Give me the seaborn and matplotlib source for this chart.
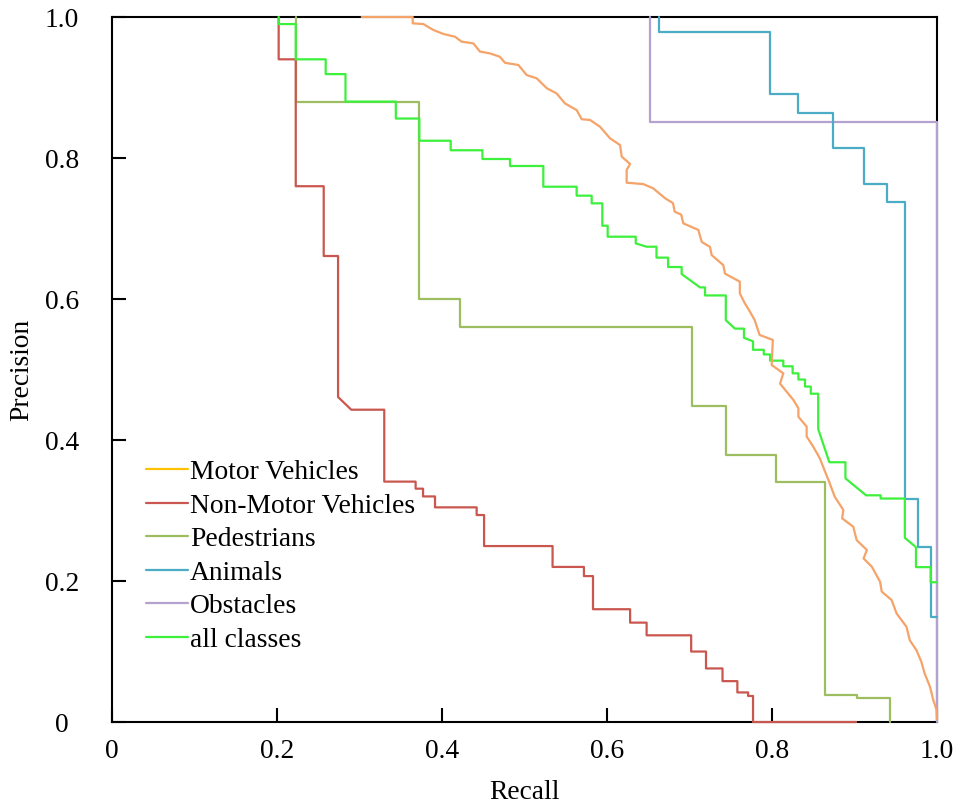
import matplotlib
matplotlib.use("Agg")
import matplotlib.pyplot as plt
from matplotlib.lines import Line2D
import seaborn as sns
import pandas as pd

# ---------------- data (vertices) ----------------
motor_recall = [0.3027, 0.3645, 0.3645, 0.3774, 0.3895, 0.4016, 0.4158, 0.4238, 0.438, 0.446,
                0.458, 0.470, 0.4764, 0.4925, 0.5026, 0.5148, 0.527, 0.539, 0.549, 0.5632,
                0.5693, 0.5794, 0.5915, 0.6036, 0.6158, 0.6178, 0.628, 0.6238, 0.6238, 0.644,
                0.656, 0.6703, 0.680, 0.682, 0.690, 0.6925, 0.7107, 0.7148, 0.7248, 0.7268,
                0.741, 0.743, 0.761, 0.761, 0.767, 0.7733, 0.779, 0.785, 0.801, 0.7996,
                0.8137, 0.8097, 0.826, 0.832, 0.832, 0.842, 0.842, 0.850, 0.858, 0.862,
                0.870, 0.876, 0.8865, 0.885, 0.8985, 0.9026, 0.915, 0.911, 0.921, 0.931,
                0.933, 0.945, 0.951, 0.963, 0.967, 0.975, 0.981, 0.985, 0.9915, 0.9955,
                0.9995, 1.0]
motor_precision = [1.0, 1.0, 0.991, 0.990, 0.9816, 0.976, 0.972, 0.965, 0.9626, 0.951,
                   0.9484, 0.9437, 0.935, 0.932, 0.9177, 0.913, 0.899, 0.8915, 0.8775, 0.868,
                   0.855, 0.854, 0.8444, 0.828, 0.8184, 0.802, 0.7915, 0.783, 0.765, 0.763,
                   0.757, 0.743, 0.736, 0.724, 0.7196, 0.7073, 0.698, 0.681, 0.674, 0.6624,
                   0.648, 0.636, 0.6246, 0.608, 0.594, 0.582, 0.570, 0.549, 0.542, 0.5064,
                   0.4946, 0.480, 0.4567, 0.445, 0.433, 0.419, 0.405, 0.3905, 0.374, 0.362,
                   0.3385, 0.3196, 0.3007, 0.2889, 0.277, 0.258, 0.244, 0.232, 0.2203, 0.199,
                   0.185, 0.173, 0.154, 0.135, 0.116, 0.102, 0.0855, 0.069, 0.050, 0.031,
                   0.017, 0.004]

nonmotor_recall = [0.202, 0.202, 0.2227, 0.2227, 0.2566, 0.2566, 0.274, 0.274, 0.290, 0.330,
                   0.330, 0.368, 0.368, 0.377, 0.377, 0.3915, 0.3915, 0.442, 0.442, 0.451,
                   0.451, 0.534, 0.534, 0.572, 0.572, 0.583, 0.583, 0.628, 0.628, 0.648,
                   0.648, 0.702, 0.702, 0.720, 0.720, 0.740, 0.740, 0.758, 0.758, 0.771,
                   0.771, 0.777, 0.777, 0.902]
nonmotor_precision = [1.0, 0.940, 0.940, 0.760, 0.760, 0.661, 0.661, 0.461, 0.443, 0.443,
                      0.341, 0.341, 0.331, 0.331, 0.320, 0.320, 0.3045, 0.3045, 0.2936, 0.2936,
                      0.2496, 0.2496, 0.220, 0.220, 0.207, 0.207, 0.160, 0.160, 0.141, 0.141,
                      0.123, 0.123, 0.100, 0.100, 0.076, 0.076, 0.058, 0.058, 0.042, 0.042,
                      0.037, 0.037, 0.0, 0.0]

ped_recall = [0.2227, 0.2227, 0.3725, 0.3725, 0.4218, 0.4218, 0.7034, 0.7034, 0.744, 0.744,
              0.8045, 0.8045, 0.864, 0.864, 0.9026, 0.9026, 0.943, 0.943]
ped_precision = [1.0, 0.880, 0.880, 0.600, 0.600, 0.561, 0.561, 0.448, 0.448, 0.379,
                 0.379, 0.340, 0.340, 0.039, 0.039, 0.034, 0.034, 0.0]

animal_recall = [0.663, 0.663, 0.7976, 0.7976, 0.831, 0.831, 0.8735, 0.8735, 0.912, 0.912,
                 0.939, 0.939, 0.9616, 0.9616, 0.9766, 0.9766, 0.9923, 0.9923, 1.0]
animal_precision = [1.0, 0.979, 0.979, 0.891, 0.891, 0.8645, 0.8645, 0.814, 0.814, 0.7627,
                    0.7627, 0.738, 0.738, 0.317, 0.317, 0.248, 0.248, 0.149, 0.149]

obst_recall = [0.652, 0.652, 1.0, 1.0]
obst_precision = [1.0, 0.851, 0.851, 0.0]

all_recall = [0.202, 0.202, 0.2227, 0.2227, 0.259, 0.259, 0.283, 0.283, 0.344, 0.344,
              0.3725, 0.3725, 0.4105, 0.4105, 0.449, 0.449, 0.4824, 0.4824, 0.5228, 0.5228,
              0.5632, 0.5632, 0.5814, 0.5814, 0.5943, 0.5943, 0.6008, 0.6008, 0.6348, 0.6348,
              0.648, 0.660, 0.660, 0.674, 0.674, 0.6905, 0.6905, 0.7127, 0.7188, 0.7188,
              0.744, 0.744, 0.755, 0.766, 0.766, 0.777, 0.777, 0.790, 0.790, 0.7976,
              0.7976, 0.8137, 0.8137, 0.825, 0.825, 0.832, 0.832, 0.840, 0.840, 0.847,
              0.847, 0.856, 0.856, 0.8695, 0.889, 0.889, 0.914, 0.9317, 0.9317, 0.961,
              0.961, 0.9745, 0.9745, 0.9923, 0.9923, 1.0]
all_precision = [1.0, 0.99, 0.99, 0.940, 0.940, 0.919, 0.919, 0.880, 0.880, 0.856,
                 0.856, 0.8245, 0.8245, 0.811, 0.811, 0.7986, 0.7986, 0.7887, 0.7887, 0.7593,
                 0.7593, 0.7466, 0.7466, 0.7357, 0.7357, 0.704, 0.704, 0.6884, 0.6884, 0.6789,
                 0.6742, 0.6742, 0.6587, 0.6587, 0.6454, 0.6454, 0.6354, 0.6165, 0.6165, 0.6051,
                 0.6051, 0.570, 0.558, 0.558, 0.545, 0.540, 0.528, 0.528, 0.5214, 0.5214,
                 0.5126, 0.5126, 0.5046, 0.5046, 0.4946, 0.4946, 0.4858, 0.4858, 0.4758, 0.4758,
                 0.4657, 0.4657, 0.4155, 0.3685, 0.3685, 0.3457, 0.3216, 0.3216, 0.317, 0.317,
                 0.2613, 0.248, 0.2197, 0.2197, 0.1983, 0.1983]

class_names = ["Motor Vehicles", "Non-Motor Vehicles", "Pedestrians", "Animals", "Obstacles", "all classes"]
tick_values = [0, 0.2, 0.4, 0.6, 0.8, 1.0]
tick_labels = ["0", "0.2", "0.4", "0.6", "0.8", "1.0"]

# ---------------- styling ----------------
sns.set_theme(style="white")
plt.rcParams["font.family"] = ["Liberation Serif", "DejaVu Serif"]
FS = 19.8

line_colors = ["#F5A368", "#C9574F", "#9DBE5F", "#4BACC6", "#B3A2CF", "#3CF03C"]
legend_colors = ["#FFC000", "#C9574F", "#9DBE5F", "#4BACC6", "#B3A2CF", "#3CF03C"]

series = [
    (motor_recall, motor_precision),
    (nonmotor_recall, nonmotor_precision),
    (ped_recall, ped_precision),
    (animal_recall, animal_precision),
    (obst_recall, obst_precision),
    (all_recall, all_precision),
]

fig = plt.figure(figsize=(9.64, 8.10), dpi=100)
ax = fig.add_axes([0.1162, 0.1086, 0.8558, 0.8704])

draw_order = [4, 3, 2, 1, 5, 0]
for i in draw_order:
    r, p = series[i]
    df = pd.DataFrame({"Recall": r, "Precision": p})
    sns.lineplot(data=df, x="Recall", y="Precision", sort=False, estimator=None,
                 color=line_colors[i], linewidth=1.6, ax=ax, legend=False,
                 zorder=3, clip_on=False)

ax.set_xlim(0, 1)
ax.set_ylim(0, 1)
ax.set_xticks(tick_values)
ax.set_xticklabels(tick_labels)
ax.set_yticks(tick_values)
ax.set_yticklabels(tick_labels, ha="center")
ax.tick_params(axis="both", direction="in", length=10, width=1.5, color="black",
               labelsize=FS, labelcolor="black", bottom=True, left=True,
               top=False, right=False)
ax.tick_params(axis="y", pad=36)
ax.tick_params(axis="x", pad=12)
ax.set_xlabel("Recall", fontsize=FS, color="black", labelpad=12)
ax.set_ylabel("Precision", fontsize=FS, color="black", labelpad=8)
ax.grid(False)
for s in ax.spines.values():
    s.set_visible(True)
    s.set_color("black")
    s.set_linewidth(1.5)

handles = [Line2D([], [], color=c, linewidth=1.6) for c in legend_colors]
leg = ax.legend(handles, class_names, loc="upper left", bbox_to_anchor=(0.041, 0.372),
                frameon=False, fontsize=FS, handlelength=1.55, handletextpad=0.05,
                labelspacing=0.3, borderpad=0, borderaxespad=0)
for t in leg.get_texts():
    t.set_color("black")

fig.savefig("out.png", dpi=100)
